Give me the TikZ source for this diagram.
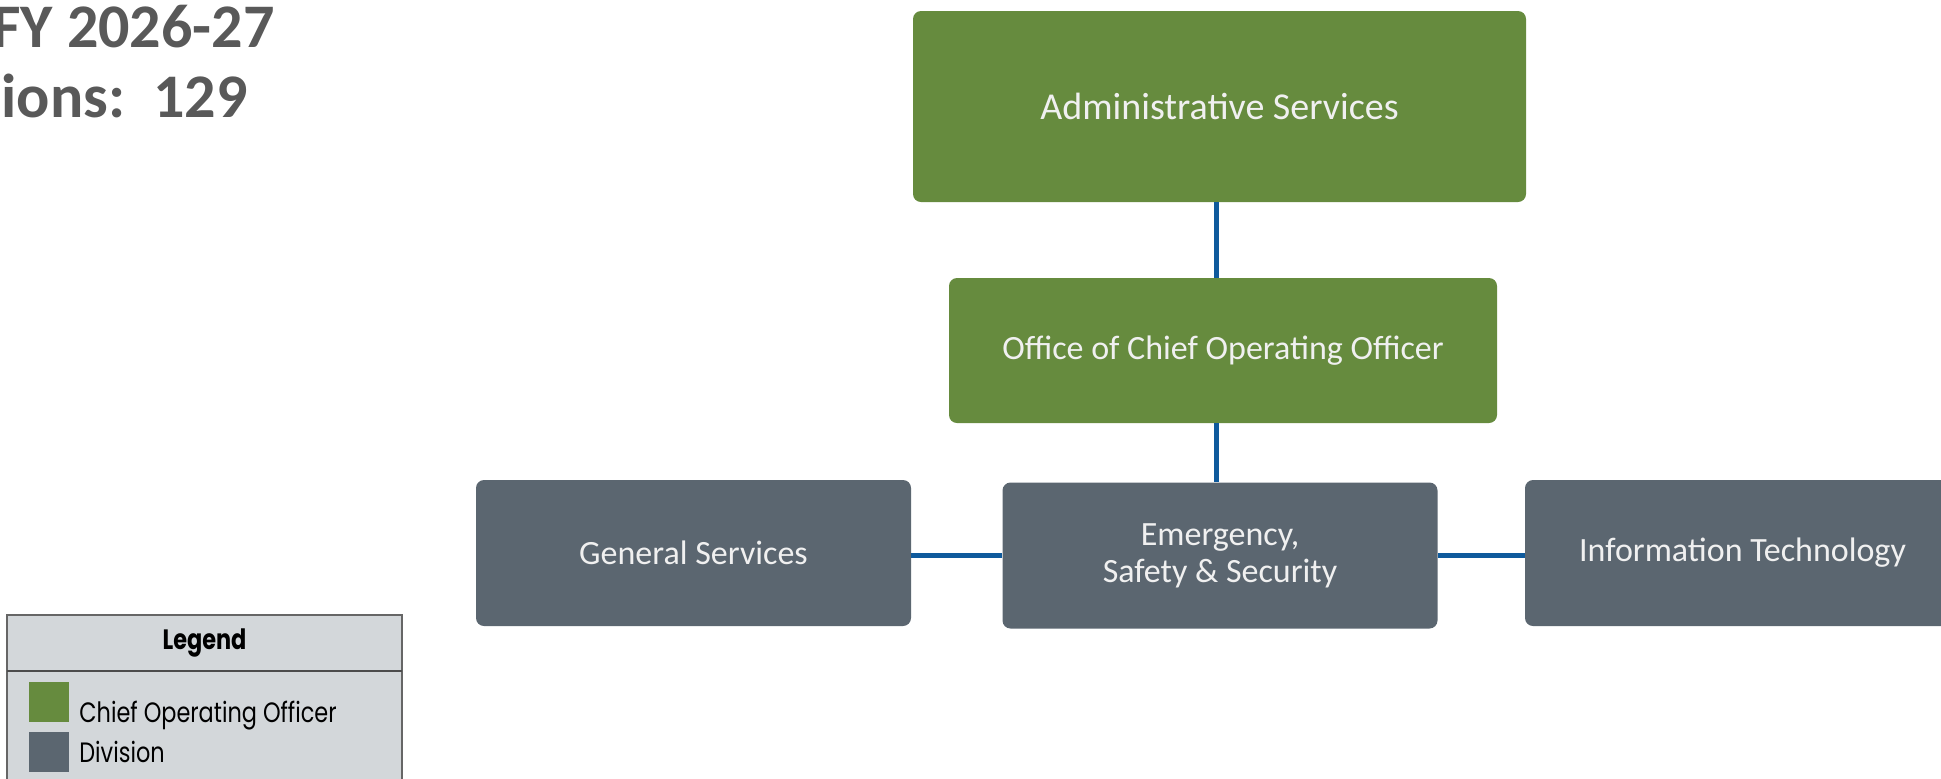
\documentclass[tikz,border=0pt]{standalone}
\usepackage{fontspec}
\setmainfont{Carlito}
\newfontfamily\legendfont[FakeStretch=0.8]{Poppins}
\definecolor{cooGreen}{HTML}{668B3E}
\definecolor{divGray}{HTML}{5B6670}
\definecolor{connBlue}{HTML}{0F5A9C}
\definecolor{boxText}{HTML}{F0F0F0}
\definecolor{titleGray}{HTML}{595959}
\definecolor{legendBg}{HTML}{D3D7DA}

\begin{document}
\begin{tikzpicture}[%
        x=0.5pt, y=-0.5pt, % 1 unit = 1 px, origin top left
        box/.style={rounded corners=4pt, inner sep=0pt, align=center,
                    text=boxText, font=\fontsize{17}{18.5}\selectfont},
        coo/.style={box, fill=cooGreen},
        division/.style={box, fill=divGray,
                    minimum width=217.5pt, minimum height=73pt},
        conn/.style={draw=connBlue, line width=2.5pt},
        legendtext/.style={anchor=base west, inner sep=0pt,
                    font=\legendfont\fontsize{14}{14}\selectfont}
        ]
            \useasboundingbox (0,0) rectangle (1941,778);
            \clip (0,0) rectangle (1941,778);

            % Titel
            \node [anchor=base east, inner sep=0pt, text=titleGray,
                   font=\fontsize{31}{31}\selectfont\bfseries]
                   (fy) at (275,47) {FY 2026-27};
            \node [anchor=base east, inner sep=0pt, text=titleGray,
                   font=\fontsize{31}{31}\selectfont\bfseries]
                   (pos) at (248,117) {ions:\ \ 129};

            % Boxen
            \node [coo, minimum width=306.5pt, minimum height=95.5pt,
                   font=\fontsize{19}{21}\selectfont]
                   (admin) at (1219.5,106.5) {Administrative Services};
            \node [coo, minimum width=274pt, minimum height=72.5pt]
                   (coo) at (1223,350.5) {Office of Chief Operating Officer};
            \node [division] (gen) at (693.5,553) {General Services};
            \node [division] (ess) at (1220,555.5) {Emergency,\\Safety \& Security};
            \node [division] (it)  at (1742.5,553) {Information Technology};

            % Linien
            \draw [conn] (admin.south) ++(-3.5,0) coordinate (t1)
                         -- (t1 |- coo.north);
            \draw [conn] (coo.south -| t1) -- (ess.north -| t1);
            \draw [conn] (ess.west) -- (ess.west -| gen.east)
                         (ess.east) -- (ess.east -| it.west);

            % Legende
            \draw [fill=legendBg, draw=gray!80!black, line width=0.6pt]
                  (7,615) rectangle (402,800);
            \draw [draw=black!70, line width=0.8pt] (7,671) -- (402,671);
            \node [inner sep=0pt, font=\legendfont\bfseries\fontsize{14}{14}\selectfont]
                  (leg) at (204.5,643) {Legend};
            \fill [cooGreen] (29,682) rectangle (69,722);
            \fill [divGray]  (29,732) rectangle (69,772);
            \node [legendtext] (lcoo) at (79,722) {Chief Operating Officer};
            \node [legendtext] (ldiv) at (79,762) {Division};

        \end{tikzpicture}
\end{document}
